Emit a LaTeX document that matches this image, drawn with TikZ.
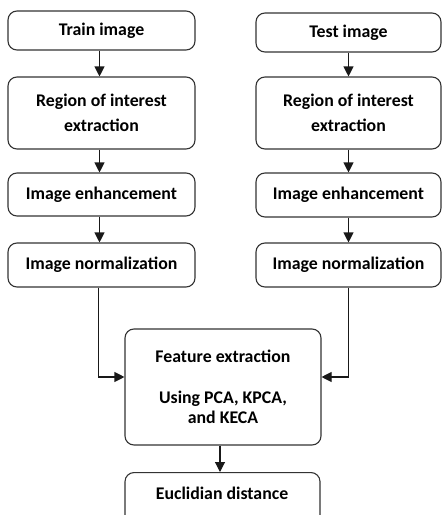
\documentclass[tikz,border=0pt]{standalone}
\usepackage{fontspec}
\setmainfont{Carlito}
\usetikzlibrary{arrows.meta}
\tikzset{
  box/.style={draw=black!80, line width=1.1pt, rounded corners=9pt, fill=white,
    inner sep=0pt, align=center, font=\fontsize{17.8}{25}\selectfont\bfseries},
  arr/.style={draw=black!90, line width=1.1pt, -{Triangle[length=10pt,width=10pt]}}
}
\begin{document}
\begin{tikzpicture}[x=1pt,y=-1pt]
\useasboundingbox (0,0) rectangle (442,515);
\clip (0,0) rectangle (442,515);
% left column
\node[box, minimum width=187pt, minimum height=39pt] (ltr) at (101.5,30.5) {Train image};
\node[box, minimum width=187pt, minimum height=72pt] (lroi) at (101.5,113) {Region of interest\\extraction};
\node[box, minimum width=187pt, minimum height=43pt] (lenh) at (101.5,194.5) {Image enhancement};
\node[box, minimum width=187pt, minimum height=44pt] (lnor) at (101.5,265) {Image normalization};
% right column
\node[box, minimum width=185pt, minimum height=39pt] (rte) at (348.5,32.5) {Test image};
\node[box, minimum width=185pt, minimum height=72pt] (rroi) at (348.5,113) {Region of interest\\extraction};
\node[box, minimum width=185pt, minimum height=44pt] (renh) at (348.5,195) {Image enhancement};
\node[box, minimum width=185pt, minimum height=44pt] (rnor) at (348.5,265) {Image normalization};
% feature
\node[box, minimum width=196pt, minimum height=116pt, font=\fontsize{17.8}{20.5}\selectfont\bfseries] (feat) at (223,387) {Feature extraction\\[20.5pt]Using PCA, KPCA,\\and KECA};
% euclid
\node[box, minimum width=195pt, minimum height=70pt, text height=12pt, anchor=north] (euc) at (222.5,472) {};
\node[font=\fontsize{17.8}{20}\selectfont\bfseries, inner sep=0pt] (euct) at (222,493) {Euclidian distance};
% arrows
\draw[arr] ([xshift=-2pt]ltr.south) -- ([xshift=-2pt]lroi.north);
\draw[arr] ([xshift=-2pt]lroi.south) -- ([xshift=-2pt]lenh.north);
\draw[arr] ([xshift=-2pt]lenh.south) -- ([xshift=-2pt]lnor.north);
\draw[arr] (rte.south) -- (rroi.north);
\draw[arr] (rroi.south) -- (renh.north);
\draw[arr] (renh.south) -- (rnor.north);
\draw[arr] ([xshift=-3pt]lnor.south) |- ([yshift=10pt]feat.west);
\draw[arr] (rnor.south) |- ([yshift=10pt]feat.east);
\draw[arr] ([xshift=-3pt]feat.south) -- ([xshift=-3pt]feat.south |- euc.north);
\end{tikzpicture}
\end{document}
